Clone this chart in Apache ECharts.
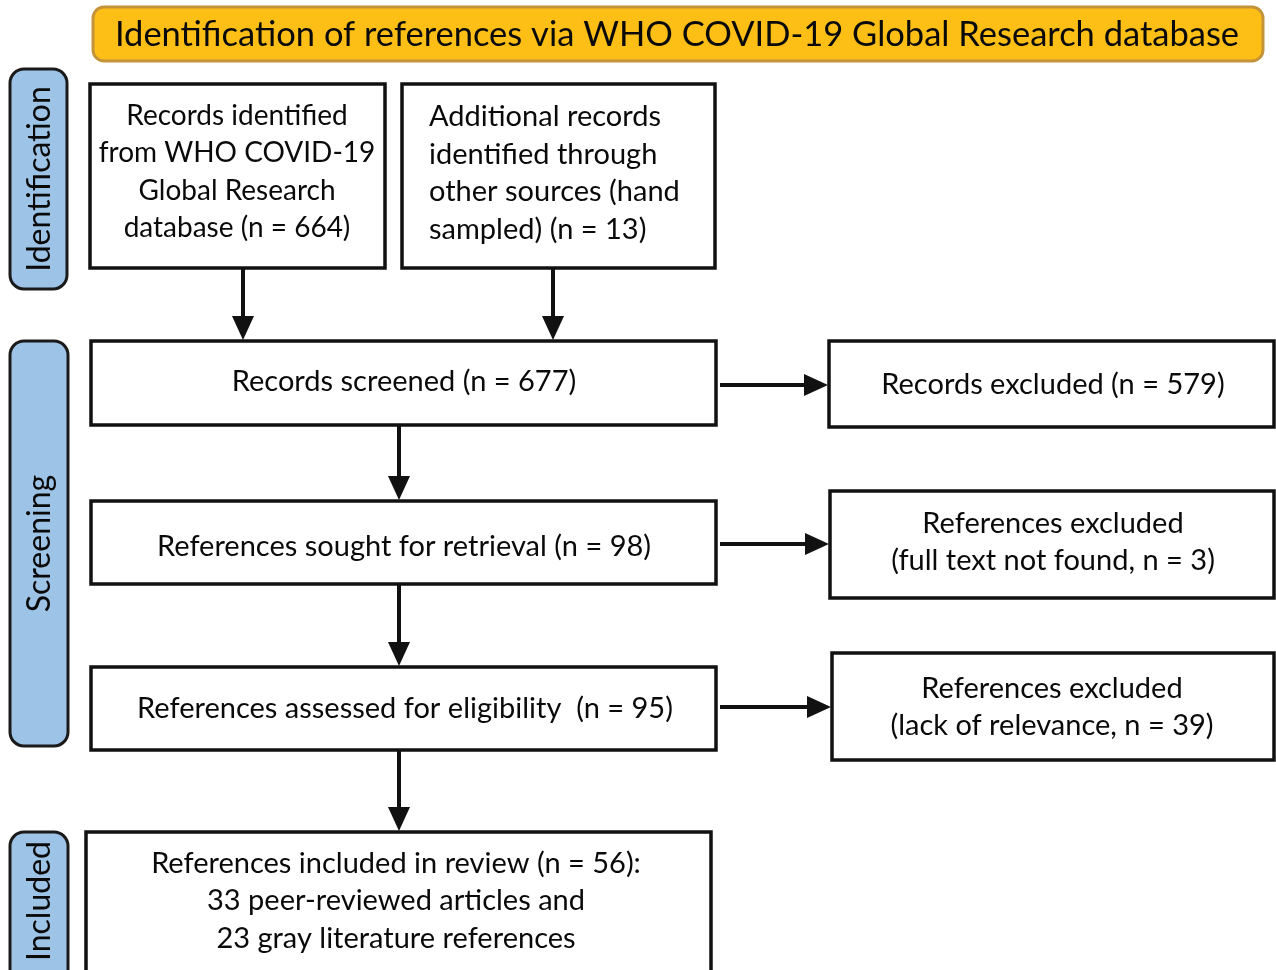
<!DOCTYPE html>
<html><head><meta charset="utf-8">
<script src="https://cdn.jsdelivr.net/npm/echarts@6/dist/echarts.min.js"></script>
<style>html,body{margin:0;padding:0;background:#fff}#c{width:1276px;height:970px}</style>
</head><body><div id="c"></div>
<script>
// ---- content ----
const titleText = 'Identification of references via WHO COVID-19 Global Research database';
const stageNames = ['Identification', 'Screening', 'Included'];
const counts = [664, 13, 677, 579, 98, 3, 95, 39, 56, 33, 23];
const boxTexts = [
  ['Records identified', 'from WHO COVID-19', 'Global Research', 'database (n = ' + counts[0] + ')'],
  ['Additional records', 'identified through', 'other sources (hand', 'sampled) (n = ' + counts[1] + ')'],
  ['Records screened (n = ' + counts[2] + ')'],
  ['Records excluded (n = ' + counts[3] + ')'],
  ['References sought for retrieval (n = ' + counts[4] + ')'],
  ['References excluded', '(full text not found, n = ' + counts[5] + ')'],
  ['References assessed for eligibility  (n = ' + counts[6] + ')'],
  ['References excluded', '(lack of relevance, n = ' + counts[7] + ')'],
  ['References included in review (n = ' + counts[8] + '):', counts[9] + ' peer-reviewed articles and', counts[10] + ' gray literature references']
];

// ---- layout (diagram units) ----
const titleLayout = [93, 7, 1263, 61, 677, 35];
const stageLayout = [[10, 69, 67, 289], [10, 341, 68, 746], [10, 832, 68, 985]];
// x1, y1, x2, y2, textX, textY, align, fontSize
const boxLayout = [
  [90, 84, 385, 268, 237, 172, 'center', 28],
  [402, 84, 715, 268, 429, 173, 'left', 29],
  [91, 341, 716, 425, 404, 382, 'center', 29],
  [829, 341, 1274, 427, 1053, 385, 'center', 29],
  [91, 501, 716, 584, 404, 547, 'center', 29],
  [830, 491, 1274, 598, 1053, 542, 'center', 29],
  [91, 667, 716, 750, 405, 709, 'center', 29],
  [832, 653, 1274, 760, 1052, 707, 'center', 29],
  [86, 832, 711, 990, 396, 901, 'center', 29]
];
const arrowLayout = [
  [243, 268, 243, 340], [553, 268, 553, 340],
  [399, 425, 399, 500], [399, 584, 399, 666], [399, 750, 399, 831],
  [720, 385, 828, 385], [720, 544, 829, 544], [720, 707, 831, 707]
];

const FONT = 'Lato, "Open Sans", sans-serif';

const chart = echarts.init(document.getElementById('c'), null, {renderer: 'canvas'});
function idx(arr) { return arr.map((_, i) => [i]); }

chart.setOption({
  animation: false,
  backgroundColor: '#ffffff',
  grid: {left: 0, right: 0, top: 0, bottom: 0},
  xAxis: {type: 'value', min: 0, max: 1276, show: false},
  yAxis: {type: 'value', min: 0, max: 970, inverse: true, show: false},
  series: [
    {
      type: 'custom', name: 'title', data: [[0]], clip: false,
      renderItem(params, api) {
        const t = titleLayout;
        const p1 = api.coord([t[0], t[1]]), p2 = api.coord([t[2], t[3]]), c = api.coord([t[4], t[5]]);
        return {type: 'group', children: [
          {type: 'rect', shape: {x: p1[0], y: p1[1], width: p2[0] - p1[0], height: p2[1] - p1[1], r: 11},
           style: {fill: '#FDBF16', stroke: '#C4943A', lineWidth: 3}},
          {type: 'text', style: {text: titleText, x: c[0], y: c[1], align: 'center', verticalAlign: 'middle',
           font: '34.5px ' + FONT, fill: '#0a0a0a'}}
        ]};
      }
    },
    {
      type: 'custom', name: 'stages', data: idx(stageNames), clip: false,
      renderItem(params, api) {
        const i = api.value(0), s = stageLayout[i];
        const p1 = api.coord([s[0], s[1]]), p2 = api.coord([s[2], s[3]]);
        const cx = (p1[0] + p2[0]) / 2 + 1, cy = (p1[1] + Math.min(p2[1], 970)) / 2;
        return {type: 'group', children: [
          {type: 'rect', shape: {x: p1[0], y: p1[1], width: p2[0] - p1[0], height: p2[1] - p1[1], r: 14},
           style: {fill: '#9DC3E6', stroke: '#1a1a1a', lineWidth: 3}},
          {type: 'text', x: cx, y: cy, rotation: Math.PI / 2,
           style: {text: stageNames[i], x: 0, y: 0, align: 'center', verticalAlign: 'middle',
           font: '32px ' + FONT, fill: '#0a0a0a'}}
        ]};
      }
    },
    {
      type: 'custom', name: 'boxes', data: idx(boxTexts), clip: false,
      renderItem(params, api) {
        const i = api.value(0), b = boxLayout[i];
        const p1 = api.coord([b[0], b[1]]), p2 = api.coord([b[2], b[3]]), c = api.coord([b[4], b[5]]);
        return {type: 'group', children: [
          {type: 'rect', shape: {x: p1[0], y: p1[1], width: p2[0] - p1[0], height: p2[1] - p1[1]},
           style: {fill: '#fff', stroke: '#111', lineWidth: 3.5}},
          {type: 'text', style: {text: boxTexts[i].join('\n'), x: c[0], y: c[1], align: b[6], verticalAlign: 'middle',
           font: b[7] + 'px ' + FONT, lineHeight: 37.5, fill: '#0a0a0a'}}
        ]};
      }
    },
    {
      type: 'custom', name: 'arrows', data: idx(arrowLayout), clip: false,
      renderItem(params, api) {
        const a = arrowLayout[api.value(0)];
        const s = api.coord([a[0], a[1]]), e = api.coord([a[2], a[3]]);
        const dx = e[0] - s[0], dy = e[1] - s[1], L = Math.hypot(dx, dy);
        const ux = dx / L, uy = dy / L, px = -uy, py = ux;
        const hl = 24, hw = 11;
        const b = [e[0] - ux * hl, e[1] - uy * hl];
        return {type: 'group', children: [
          {type: 'line', shape: {x1: s[0], y1: s[1], x2: b[0] + ux * 2, y2: b[1] + uy * 2},
           style: {stroke: '#111', lineWidth: 4}},
          {type: 'polygon', shape: {points: [e, [b[0] + px * hw, b[1] + py * hw], [b[0] - px * hw, b[1] - py * hw]]},
           style: {fill: '#111'}}
        ]};
      }
    }
  ]
});
</script>
</body></html>
